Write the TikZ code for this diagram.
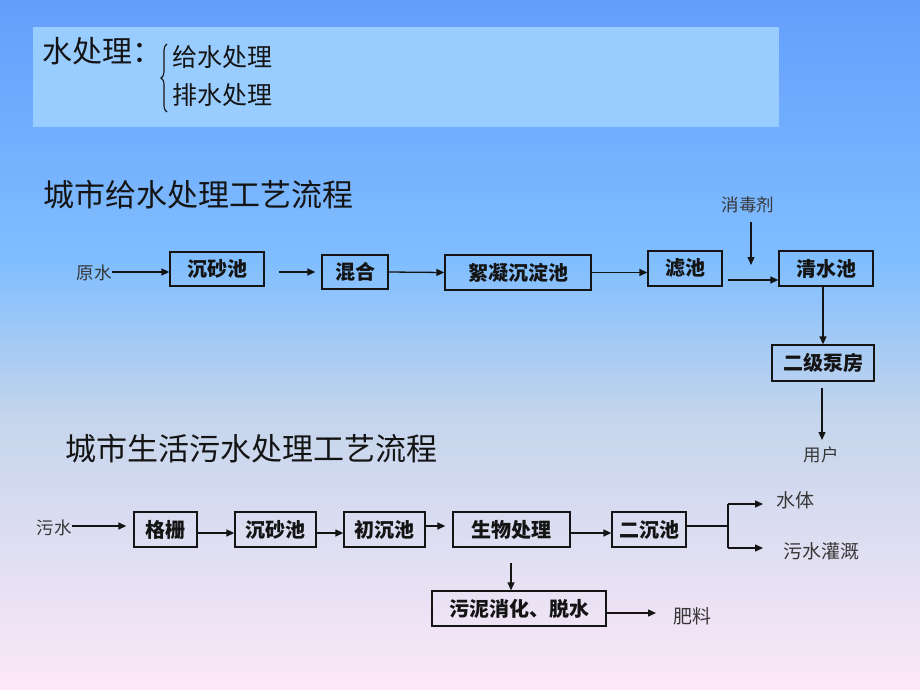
\documentclass[tikz,border=0pt]{standalone}
\usepackage{fontspec}
\newfontfamily\cjk{Noto Sans CJK SC}
\usetikzlibrary{arrows.meta,decorations.pathreplacing}
\definecolor{bgtop}{RGB}{100,158,252}
\definecolor{bgmid}{RGB}{128,190,255}
\definecolor{bggrey}{RGB}{196,213,236}
\definecolor{bgbot}{RGB}{252,232,248}
\definecolor{panel}{RGB}{153,204,255}
\definecolor{ink}{RGB}{20,20,20}
\pgfdeclareverticalshading{bgshade}{100bp}{color(0bp)=(bgbot); color(25bp)=(bgbot); color(45bp)=(bggrey); color(56bp)=(bgmid); color(75bp)=(bgtop); color(100bp)=(bgtop)}
\tikzset{
  stepbox/.style={draw=ink, line width=1.3pt, inner sep=0pt, text=ink, font=\cjk\bfseries\fontsize{20}{23}\selectfont},
  lbl/.style={inner sep=0pt, text=ink!85, font=\cjk\fontsize{17.5}{20}\selectfont},
  lblb/.style={inner sep=0pt, text=ink!85, font=\cjk\fontsize{19}{22}\selectfont},
  ttl/.style={inner sep=0pt, anchor=west, text=ink, font=\cjk\fontsize{31}{34}\selectfont},
  arr/.style={draw=ink, line width=1.3pt, -{Triangle[length=8pt,width=7pt]}},
  ln/.style={draw=ink, line width=1.3pt},
}
\begin{document}
\begin{tikzpicture}[x=1pt,y=-1pt]
\useasboundingbox (0,0) rectangle (920,690);
\shade[shading=bgshade] (0,0) rectangle (920,690);
% header panel
\fill[panel] (33,27) rectangle (779,127);
\node[ttl, font=\cjk\fontsize{30}{33}\selectfont] (h0) at (42,51) {水处理：};
\node[ttl, font=\cjk\fontsize{25}{28}\selectfont] (h1) at (172,57) {给水处理};
\node[ttl, font=\cjk\fontsize{25}{28}\selectfont] (h2) at (172,95) {排水处理};
\draw[ink, line width=1.1pt, decorate, decoration={brace, amplitude=6pt, aspect=0.5}] (167,112) -- (167,44);
% titles
\node[ttl] (t1) at (43,195) {城市给水处理工艺流程};
\node[ttl] (t2) at (65,449) {城市生活污水处理工艺流程};
% row 1
\node[stepbox, minimum width=94pt, minimum height=34pt] (b1) at (217,269) {沉砂池};
\node[stepbox, minimum width=66pt, minimum height=34pt] (b2) at (355,272) {混合};
\node[stepbox, minimum width=146pt, minimum height=35pt] (b3) at (518,272.5) {絮凝沉淀池};
\node[stepbox, minimum width=74pt, minimum height=35pt] (b4) at (685,268.5) {滤池};
\node[stepbox, minimum width=94pt, minimum height=35pt] (b5) at (826,268.5) {清水池};
\node[stepbox, minimum width=102pt, minimum height=36pt] (b6) at (823,363) {二级泵房};
\node[lbl] (l1) at (94,273) {原水};
\node[lbl] (l2) at (748,205) {消毒剂};
\node[lbl] (l3) at (821,455) {用户};
\coordinate (p1) at (279,272);
\coordinate (p2) at (728,280);
\coordinate (p3) at (751,222);
\coordinate (p4) at (751,265);
\coordinate (p5) at (822,388);
\coordinate (p6) at (822,440);
\draw[arr] (l1.east |- p1) -- (p1 -| b1.west);
\draw[arr, shorten >=6pt] (p1) -- (p1 -| b2.west);
\draw[arr] (b2.east) -- (b3.west);
\draw[arr] (b3.east) -- (b3.east -| b4.west);
\draw[arr] (p2) -- (p2 -| b5.west);
\draw[arr] (p3) -- (p4);
\draw[arr] (b6.north |- b5.south) -- (b6.north);
\draw[arr] (p5) -- (p6);
% row 2
\node[stepbox, minimum width=63pt, minimum height=35pt] (c1) at (165.5,529.5) {格栅};
\node[stepbox, minimum width=81pt, minimum height=35pt] (c2) at (275.5,529.5) {沉砂池};
\node[stepbox, minimum width=81pt, minimum height=35pt] (c3) at (384.5,529.5) {初沉池};
\node[stepbox, minimum width=117pt, minimum height=35pt] (c4) at (511.5,529.5) {生物处理};
\node[stepbox, minimum width=74pt, minimum height=35pt] (c5) at (649,529.5) {二沉池};
\node[stepbox, minimum width=174pt, minimum height=35pt] (c6) at (519,608.5) {污泥消化、脱水};
\node[lbl] (m1) at (54,528) {污水};
\node[lblb] (m2) at (795,500) {水体};
\node[lblb] (m3) at (821,551) {污水灌溉};
\node[lblb] (m4) at (692,616) {肥料};
\coordinate (q1) at (0,526);
\coordinate (q2) at (0,533);
\coordinate (q3) at (728,526);
\coordinate (q4) at (728,504);
\coordinate (q5) at (728,548);
\coordinate (q6) at (763,504);
\coordinate (q7) at (763,548);
\coordinate (q8) at (511,563);
\coordinate (q9) at (656,613);
\draw[arr, shorten >=7pt] (m1.east |- q1) -- (c1.west |- q1);
\draw[arr] (c1.east |- q2) -- (c2.west |- q2);
\draw[arr] (c2.east |- q2) -- (c3.west |- q2);
\draw[arr, shorten >=7pt] (c3.east |- q1) -- (c4.west |- q1);
\draw[arr] (c4.east |- q2) -- (c5.west |- q2);
\draw[ln] (c5.east |- q3) -- (q3);
\draw[ln] (q4) -- (q5);
\draw[arr] (q4) -- (q6);
\draw[arr] (q5) -- (q7);
\draw[arr] (q8) -- (q8 |- c6.north);
\draw[arr] (c6.east |- q9) -- (q9);
\end{tikzpicture}
\end{document}
